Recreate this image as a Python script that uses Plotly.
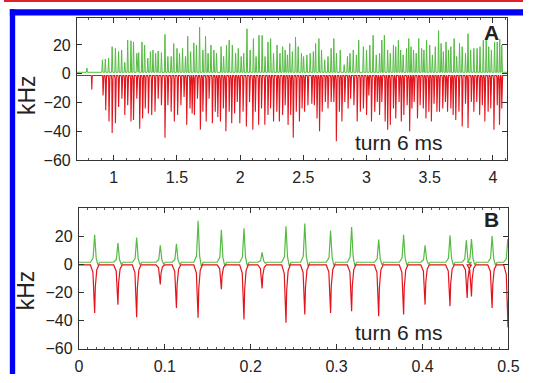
import plotly.graph_objects as go

# ---------------- Panel A data (time in s, shift in kHz) ----------------
a_green_t = [0.787, 0.910, 0.933, 0.959, 0.987, 1.013, 1.038, 1.062, 1.087, 1.110, 1.136, 1.156, 1.182, 1.197,
             1.223, 1.244, 1.269, 1.290, 1.310, 1.331, 1.351, 1.377, 1.405, 1.428, 1.454, 1.474, 1.500, 1.520,
             1.544, 1.567, 1.585, 1.608, 1.633, 1.654, 1.679, 1.705, 1.726, 1.746, 1.769, 1.792, 1.813,
             1.849, 1.869, 1.892, 1.913, 1.938, 1.964, 1.985, 2.008, 2.028, 2.054, 2.079, 2.105, 2.126, 2.149,
             2.174, 2.197, 2.220, 2.241, 2.264, 2.292, 2.315, 2.336, 2.356, 2.374, 2.392, 2.413, 2.438, 2.459,
             2.485, 2.502, 2.528, 2.554, 2.579, 2.597, 2.623, 2.644, 2.669, 2.695, 2.720, 2.741, 2.762, 2.792,
             2.823, 2.849, 2.869, 2.895, 2.920, 2.938,
             2.975, 3.000, 3.026, 3.052, 3.077, 3.103, 3.121, 3.141, 3.167, 3.188, 3.213, 3.231, 3.252, 3.270,
             3.290, 3.316, 3.334, 3.352, 3.372, 3.393, 3.413, 3.436, 3.454, 3.475, 3.500, 3.521, 3.544, 3.570,
             3.590, 3.608, 3.629, 3.649, 3.667, 3.693, 3.713, 3.736, 3.757, 3.783, 3.803, 3.824, 3.849, 3.875,
             3.898, 3.924, 3.947, 3.967, 3.988, 4.013, 4.034, 4.054, 4.070]
a_green_v = [4.0, 9.7, 10.2, 10.8, 18.8, 17.6, 15.4, 16.5, 7.9, 23.3, 22.9, 22.1, 14.2, 14.7,
             22.1, 19.9, 10.8, 15.4, 16.5, 14.2, 15.8, 14.7, 27.3, 12.0, 12.0, 21.0, 17.6, 14.2,
             17.6, 12.0, 26.0, 15.4, 21.5, 19.9, 32.3, 16.5, 26.0, 14.2, 19.9, 16.5, 14.2,
             18.8, 12.0, 19.9, 23.3, 19.9, 14.2, 17.6, 12.0, 14.2, 31.2, 16.5, 24.4, 12.0, 26.7,
             26.7, 12.0, 22.1, 24.4, 14.2, 19.9, 14.2, 18.8, 16.5, 13.1, 21.0, 15.4, 25.5, 18.8,
             14.2, 12.0, 13.1, 14.2, 15.4, 21.0, 24.4, 16.5, 9.7, 12.0, 17.6, 24.4, 14.2, 16.5,
             6.3, 12.0, 14.2, 16.5, 13.1, 23.3,
             18.8, 16.5, 19.9, 26.7, 13.1, 14.2, 23.3, 26.7, 16.5, 14.2, 19.9, 18.8, 23.3, 16.5,
             13.1, 17.6, 24.4, 18.8, 16.5, 14.2, 24.4, 17.6, 16.5, 23.3, 19.9, 13.1, 18.8, 30.0,
             21.0, 15.4, 22.1, 16.5, 18.8, 24.4, 12.0, 21.0, 18.8, 14.2, 27.8, 16.5, 17.6, 17.6,
             18.8, 23.3, 25.5, 18.8, 16.5, 22.1, 22.0, 24.0, 20.0]

a_red_t = [0.826, 0.915, 0.936, 0.962, 0.987, 1.013, 1.038, 1.064, 1.087, 1.110, 1.136, 1.156, 1.182, 1.205,
           1.228, 1.249, 1.274, 1.300, 1.326, 1.351, 1.377, 1.405, 1.428, 1.454, 1.479, 1.505, 1.531, 1.556,
           1.577, 1.603, 1.620, 1.638, 1.662, 1.685, 1.705, 1.731, 1.754, 1.780, 1.803,
           1.823, 1.844, 1.867, 1.887, 1.913, 1.933, 1.956, 1.977, 1.997, 2.023, 2.049, 2.074, 2.100, 2.120,
           2.146, 2.169, 2.195, 2.220, 2.241, 2.264, 2.290, 2.310, 2.336, 2.356, 2.379, 2.400, 2.420, 2.444,
           2.469, 2.490, 2.510, 2.536, 2.567, 2.587, 2.608, 2.628, 2.649, 2.674, 2.695, 2.720, 2.741, 2.761,
           2.785, 2.805, 2.828, 2.854, 2.874, 2.900, 2.926, 2.951,
           2.975, 3.000, 3.018, 3.039, 3.065, 3.085, 3.103, 3.121, 3.147, 3.167, 3.188, 3.213, 3.231, 3.257,
           3.275, 3.295, 3.321, 3.341, 3.359, 3.377, 3.403, 3.424, 3.449, 3.470, 3.493, 3.513, 3.534, 3.557,
           3.577, 3.603, 3.624, 3.641, 3.667, 3.685, 3.706, 3.731, 3.757, 3.783, 3.803, 3.829, 3.849, 3.872,
           3.895, 3.916, 3.936, 3.962, 3.983, 4.008, 4.034, 4.052, 4.070]
a_red_v = [-11.0, -15.1, -25.3, -33.2, -41.1, -34.4, -23.1, -17.4, -28.7, -21.9, -33.2, -32.1, -17.4, -38.2,
           -31.0, -24.2, -27.6, -28.7, -26.4, -17.4, -21.9, -44.5, -21.9, -26.4, -33.2, -28.7, -21.9, -16.2,
           -35.5, -24.2, -27.6, -28.7, -17.4, -38.9, -26.4, -33.2, -17.4, -34.4, -26.4,
           -30.0, -33.2, -24.2, -40.0, -26.4, -34.4, -27.6, -19.6, -34.4, -26.4, -36.6, -19.6, -38.9, -26.4,
           -35.5, -24.2, -35.5, -28.7, -24.2, -33.2, -26.4, -33.2, -28.7, -21.9, -35.5, -28.7, -44.5, -26.4,
           -33.2, -24.2, -26.4, -21.9, -20.8, -21.9, -31.0, -40.0, -26.4, -19.6, -24.2, -19.6, -19.6, -46.8,
           -26.4, -33.2, -19.6, -24.2, -17.4, -21.9, -33.2, -26.4,
           -24.2, -28.7, -15.1, -33.2, -26.4, -19.6, -28.7, -19.6, -33.2, -38.9, -35.5, -24.2, -31.0, -19.6,
           -33.2, -28.7, -21.9, -40.0, -24.2, -19.6, -31.0, -21.9, -24.2, -31.0, -26.4, -33.2, -20.8, -26.4,
           -26.4, -24.2, -19.6, -26.4, -24.2, -28.7, -32.1, -26.4, -36.6, -20.8, -37.7, -19.6, -26.4, -19.6,
           -28.7, -21.9, -33.2, -26.4, -24.2, -38.9, -21.9, -35.5, -24.2]

# ---------------- Panel B data ----------------
b_green_t = [0.0184, 0.0455, 0.0673, 0.0948, 0.1136, 0.1388, 0.1659, 0.1922, 0.2133, 0.2411, 0.2630,
             0.2930, 0.3175, 0.3490, 0.3780, 0.4030, 0.4320, 0.4510, 0.4570, 0.4810, 0.4993]
b_green_v = [21.0, 15.0, 19.0, 13.5, 14.5, 31.0, 24.5, 25.5, 8.5, 27.0, 29.0,
             24.0, 26.5, 17.5, 21.0, 13.5, 20.5, 17.0, 18.0, 20.0, 18.0]
b_red_t = [0.0184, 0.0455, 0.0673, 0.0948, 0.1136, 0.1388, 0.1659, 0.1922, 0.2133, 0.2411, 0.2630,
           0.2930, 0.3175, 0.3490, 0.3780, 0.4030, 0.4320, 0.4520, 0.4570, 0.4810, 0.4995]
b_red_v = [-34.6, -28.8, -37.6, -14.4, -31.1, -38.1, -17.7, -39.3, -17.2, -41.6, -35.8,
           -34.6, -33.4, -36.9, -35.8, -28.7, -29.8, -24.0, -23.0, -31.1, -45.0]

A_XRANGE = [0.708, 4.115]
B_XRANGE = [0.0, 0.5]
A_XTICKS = [1, 1.5, 2, 2.5, 3, 3.5, 4]
B_XTICKS = [0, 0.1, 0.2, 0.3, 0.4, 0.5]
Y_TICKS = [-60, -40, -20, 0, 20]

GREEN = "#55bb42"
RED = "#e3141c"


def spike_trace(times, vals, base, shape, xr):
    """Build a polyline: baseline with a spike at each event; shape is a list of
    (time offset, fraction of peak above base) pairs."""
    xs, ys = [xr[0]], [base]
    for t, v in zip(times, vals):
        for dt, frac in shape:
            xs.append(t + dt)
            ys.append(base + frac * (v - base))
    xs.append(xr[1])
    ys.append(base)
    return xs, ys


W = 534
H = 383
fig = go.Figure()

# Panel A
gx, gy = spike_trace(a_green_t, a_green_v, 1.0,
                     [(-0.005, 0.0), (0.0, 1.0), (0.005, 0.0)], A_XRANGE)
rx, ry = spike_trace(a_red_t, a_red_v, -1.2,
                     [(-0.007, 0.0), (-0.003, 0.07), (0.0, 1.0), (0.003, 0.07), (0.007, 0.0)], A_XRANGE)
fig.add_trace(go.Scatter(x=gx, y=gy, mode="lines", line=dict(color=GREEN, width=1),
                         xaxis="x", yaxis="y", showlegend=False, hoverinfo="skip"))
fig.add_trace(go.Scatter(x=rx, y=ry, mode="lines", line=dict(color=RED, width=1.1),
                         xaxis="x", yaxis="y", showlegend=False, hoverinfo="skip"))

# Panel B
gx2, gy2 = spike_trace(b_green_t, b_green_v, 1.4,
                       [(-0.005, 0.0), (-0.0018, 0.15), (0.0, 1.0), (0.0018, 0.15),
                        (0.0038, -0.1), (0.006, 0.0)], B_XRANGE)
rx2, ry2 = spike_trace(b_red_t, b_red_v, -0.5,
                       [(-0.005, 0.0), (-0.002, 0.15), (-0.0007, 0.55), (0.0, 1.0),
                        (0.0008, 0.45), (0.0025, 0.1), (0.005, 0.0)], B_XRANGE)
fig.add_trace(go.Scatter(x=gx2, y=gy2, mode="lines", line=dict(color=GREEN, width=1.2),
                         xaxis="x2", yaxis="y2", showlegend=False, hoverinfo="skip"))
fig.add_trace(go.Scatter(x=rx2, y=ry2, mode="lines", line=dict(color=RED, width=1.2),
                         xaxis="x2", yaxis="y2", showlegend=False, hoverinfo="skip"))

font_tick = dict(family="Liberation Sans, Arial, sans-serif", size=16, color="#222222")
axis_common = dict(showline=True, linecolor="#333333", linewidth=1, mirror="ticks",
                   ticks="inside", ticklen=5, tickcolor="#333333", showgrid=False,
                   zeroline=False, tickfont=font_tick)

fig.update_layout(
    width=W, height=H, margin=dict(l=0, r=0, t=0, b=0),
    paper_bgcolor="white", plot_bgcolor="white",
    xaxis=dict(domain=[75 / W, 518 / W], range=A_XRANGE, tickvals=A_XTICKS,
               ticktext=[str(v) for v in A_XTICKS], anchor="y", ticklabelstandoff=3,
               minor=dict(ticks="inside", ticklen=2, dtick=0.1, tickcolor="#555555"),
               **axis_common),
    yaxis=dict(domain=[1 - 164 / H, 1 - 18 / H], range=[-60, 39], tickvals=Y_TICKS,
               anchor="x", ticklabelstandoff=2, **axis_common),
    xaxis2=dict(domain=[77 / W, 519 / W], range=B_XRANGE, tickvals=B_XTICKS,
                ticktext=["0", "0.1", "0.2", "0.3", "0.4", "0.5"], anchor="y2", ticklabelstandoff=3,
                minor=dict(ticks="inside", ticklen=2, dtick=0.01, tickcolor="#555555"),
                **axis_common),
    yaxis2=dict(domain=[1 - 357 / H, 1 - 213 / H], range=[-60, 40], tickvals=Y_TICKS,
                anchor="x2", ticklabelstandoff=2, **axis_common),
)

label_font = dict(family="Liberation Sans, Arial, sans-serif", color="#222222")
annotations = [
    dict(text="kHz", x=23 / W, y=1 - 97 / H, textangle=-90, font=dict(size=23, **label_font)),
    dict(text="kHz", x=23 / W, y=1 - 297 / H, textangle=-90, font=dict(size=23, **label_font)),
    dict(text="turn 6 ms", x=406 / W, y=1 - 146 / H, font=dict(size=21, **label_font)),
    dict(text="turn 6 ms", x=406 / W, y=1 - 340 / H, font=dict(size=21, **label_font)),
    dict(text="<b>A</b>", x=502 / W, y=1 - 33 / H, font=dict(size=21, **label_font)),
    dict(text="<b>B</b>", x=502 / W, y=1 - 225 / H, font=dict(size=21, **label_font)),
]
for a in annotations:
    a.update(xref="paper", yref="paper", showarrow=False, xanchor="center", yanchor="middle")
fig.update_layout(annotations=annotations)

# Frame decoration: red rule at top, blue border on top and left
fig.update_layout(shapes=[
    dict(type="rect", xref="paper", yref="paper", x0=0, x1=1, y0=1 - 2 / H, y1=1,
         fillcolor="#e0202a", line=dict(width=0)),
    dict(type="rect", xref="paper", yref="paper", x0=6 / W, x1=1, y0=1 - 16 / H, y1=1 - 9.5 / H,
         fillcolor="#0000f5", line=dict(width=0)),
    dict(type="rect", xref="paper", yref="paper", x0=6 / W, x1=11.5 / W, y0=0, y1=1 - 9.5 / H,
         fillcolor="#0000f5", line=dict(width=0)),
])

fig.write_html("out.html")
